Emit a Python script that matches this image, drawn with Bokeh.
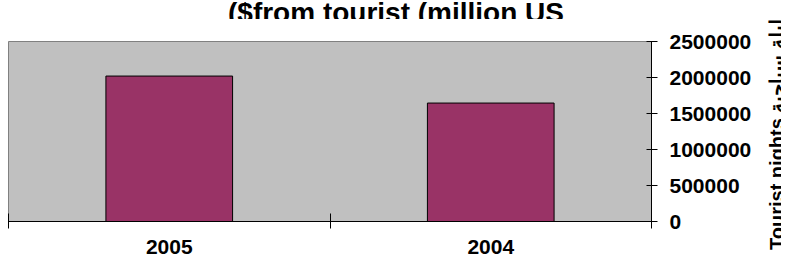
import math
from bokeh.plotting import figure
from bokeh.layouts import row, column
from bokeh.models import FixedTicker, Range1d, ColumnDataSource
from bokeh.core.properties import value
from bokeh.embed import file_html
from bokeh.resources import INLINE

# ---- data ----
categories = ["2005", "2004"]
nights = [2020000, 1645000]
y_ticks = [0, 500000, 1000000, 1500000, 2000000, 2500000]
y_tick_labels = ["0", "500000", "1000000", "1500000", "2000000", "2500000"]
title_text = "($from tourist (million US"
axis_title = "Tourist nights ليلة سياحية"

FONT = "Liberation Sans"
MAIN_W = 760
STRIP_W = 21
TITLE_H = 19
TOTAL_H = 268


def strip(width, height):
    f = figure(width=width, height=height, output_backend="svg", toolbar_location=None,
               x_range=Range1d(0, 1), y_range=Range1d(0, 1),
               x_axis_type=None, y_axis_type=None, min_border=0,
               outline_line_color=None, background_fill_color="white",
               border_fill_color="white")
    f.grid.visible = False
    return f


# title strip (top of the title is cut off, as in the reference)
pt = strip(MAIN_W, TITLE_H)
pt.text(x=[0.5], y=[0.0], text=[title_text], text_align="center",
        text_baseline="alphabetic", x_offset=66, y_offset=-7,
        text_font=value(FONT), text_font_style="bold", text_font_size="28px",
        text_color="black")

centers = [i + 0.5 for i in range(len(categories))]
bounds = [float(i) for i in range(len(categories) + 1)]
src = ColumnDataSource(dict(x=centers, top=nights, cat=categories))

p = figure(width=MAIN_W, height=TOTAL_H - TITLE_H, output_backend="svg", toolbar_location=None,
           x_range=Range1d(0, len(categories)), y_range=Range1d(0, y_ticks[-1]),
           y_axis_location="right",
           min_border_left=8, min_border_top=41 - TITLE_H, min_border_bottom=47,
           min_border_right=MAIN_W - 651,
           background_fill_color="#C0C0C0", border_fill_color="white",
           outline_line_color="#808080", outline_line_width=1)

p.vbar(x="x", top="top", width=0.394, source=src,
       fill_color="#993366", line_color="black", line_width=1)

p.grid.visible = False

# x axis: boundary ticks (minor), labels at centers
xa = p.xaxis[0]
xa.ticker = FixedTicker(ticks=centers, minor_ticks=bounds)
xa.major_label_overrides = {c: lab for c, lab in zip(centers, categories)}
xa.major_tick_in = 0
xa.major_tick_out = 0
xa.minor_tick_in = 8
xa.minor_tick_out = 7
xa.minor_tick_line_color = "black"
xa.axis_line_color = "black"
xa.major_label_text_font = FONT
xa.major_label_text_font_style = "bold"
xa.major_label_text_font_size = "21px"
xa.major_label_text_color = "black"
xa.major_label_standoff = 11

# y axis on the right
ya = p.yaxis[0]
ya.ticker = FixedTicker(ticks=y_ticks)
ya.major_label_overrides = {t: lab for t, lab in zip(y_ticks, y_tick_labels)}
ya.major_tick_in = 5
ya.major_tick_out = 6
ya.minor_tick_line_color = None
ya.axis_line_color = "black"
ya.major_tick_line_color = "black"
ya.major_label_text_font = FONT
ya.major_label_text_font_style = "bold"
ya.major_label_text_font_size = "21px"
ya.major_label_text_color = "black"
ya.major_label_standoff = 12

# narrow strip holding the vertical axis title (reads bottom-to-top)
p2 = strip(STRIP_W, TOTAL_H)
p2.text(x=[0.5], y=[0.5], text=[axis_title], angle=math.pi / 2,
        text_align="center", text_baseline="alphabetic", x_offset=6,
        text_font=value(FONT), text_font_style="bold", text_font_size="20px",
        text_color="black")

layout = row(column(pt, p, spacing=0), p2, spacing=0)
open("out.html", "w").write(file_html(layout, INLINE))
